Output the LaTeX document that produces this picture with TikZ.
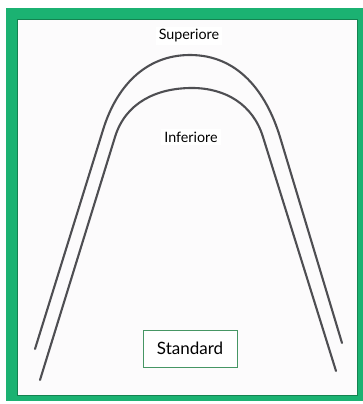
\documentclass[tikz,border=0pt]{standalone}
\usepackage{fontspec}
\setmainfont{Lato}
\definecolor{framegreen}{RGB}{27,178,114}
\definecolor{edgegreen}{RGB}{20,130,80}
\definecolor{boxgreen}{RGB}{70,150,100}
\definecolor{paper}{RGB}{252,251,252}
\definecolor{wiregray}{RGB}{78,78,82}
\tikzset{
  wire/.style={line width=2.1pt,draw=wiregray,line cap=round,line join=round},
  archlabel/.style={fill=white,inner sep=3pt,font=\fontsize{14.3}{16}\selectfont},
  stdbox/.style={draw=boxgreen,fill=white,line width=0.9pt,minimum width=94pt,
    minimum height=37pt,font=\fontsize{17}{19}\selectfont}
}

\begin{document}
\begin{tikzpicture}[x=1pt,y=1pt]
        \useasboundingbox (0,0) rectangle (363,404);
        % frame
        \fill[framegreen] (6,3) rectangle (363,396);
        \fill[paper,draw=edgegreen,line width=0.6pt] (17,9) rectangle (357,385);
        % upper arch
        \coordinate (supL) at (35,55);
        \coordinate (supR) at (342,61);
        \draw[wire] (supL) -- (103,274) to[out=73,in=180] (190,349)
          to[out=0,in=107] (280,267) -- (supR);
        % lower arch
        \coordinate (infL) at (40,24);
        \coordinate (infR) at (336,33);
        \draw[wire] (infL) -- (115,267) to[out=73,in=180] (192,316)
          to[out=0,in=107] (263,267) -- (infR);
        % labels
        \node[archlabel] (sup) at (189,368) {Superiore};
        \node[archlabel] (inf) at (191,267) {Inferiore};
        \node[stdbox] (std) at (190,55.5) {Standard};
      \end{tikzpicture}
\end{document}
